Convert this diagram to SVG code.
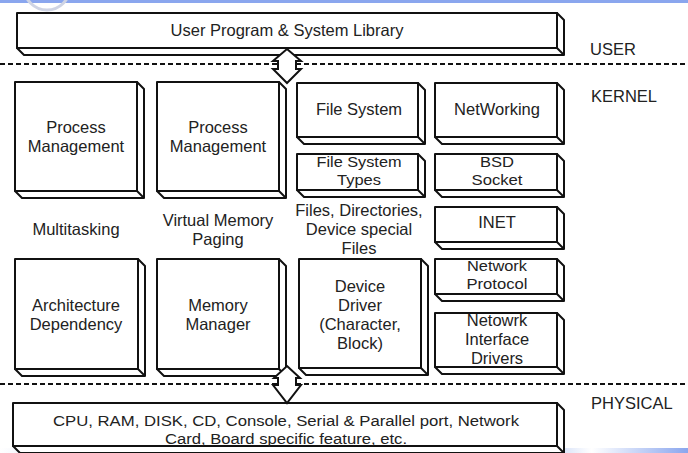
<svg xmlns="http://www.w3.org/2000/svg" width="688" height="453" viewBox="0 0 688 453">
<defs>
<linearGradient id="bandB" x1="0" y1="0" x2="1" y2="0">
<stop offset="0" stop-color="#ffffff"/>
<stop offset="0.18" stop-color="#c4d3f5"/>
<stop offset="0.45" stop-color="#8ea9ec"/>
<stop offset="0.78" stop-color="#b9cbf3"/>
<stop offset="0.86" stop-color="#ffffff"/>
<stop offset="1" stop-color="#8aa6ee"/>
</linearGradient>
</defs>
<style>
.f{fill:#fff;stroke:#111;stroke-width:2;stroke-linejoin:round}
.e{fill:#fff;stroke:#111;stroke-width:2;stroke-linejoin:round}
.t{font-family:"Liberation Sans",Arial,sans-serif;font-size:16.5px;fill:#222;text-anchor:middle}
.s{font-family:"Liberation Sans",Arial,sans-serif;font-size:15.5px;fill:#222;text-anchor:middle}
.l{font-family:"Liberation Sans",Arial,sans-serif;font-size:16.5px;fill:#222}
.d{stroke:#111;stroke-width:2;stroke-dasharray:5 3;fill:none}
.a{fill:#fff;stroke:#111;stroke-width:2;stroke-linejoin:miter}
</style>
<rect width="688" height="453" fill="#fff"/>
<rect x="0" y="0" width="688" height="3" fill="#8aa6ee"/>
<circle cx="47" cy="-13" r="23" fill="none" stroke="#cfd4e4" stroke-width="3"/>
<rect x="0" y="448" width="688" height="5" fill="url(#bandB)"/>

<g id="separators">
<line class="d" x1="0" y1="64" x2="688" y2="64"/>
<line class="d" x1="0" y1="384" x2="688" y2="384"/>
</g>

<g id="labels">
<text class="l" x="590" y="55">USER</text>
<text class="l" x="591" y="102">KERNEL</text>
<text class="l" x="591" y="409">PHYSICAL</text>
<text class="t" x="76" y="235">Multitasking</text>
<text class="t" x="218" y="226">Virtual Memory</text>
<text class="t" x="218" y="245">Paging</text>
<text class="t" x="359" y="216">Files, Directories,</text>
<text class="t" x="359" y="235">Device special</text>
<text class="t" x="359" y="254">Files</text>
</g>

<g id="user-program">
<polygon class="e" points="557,13 564,20 564,55 24,55 17,48 557,48"/>
<line class="e" x1="557" y1="48" x2="564" y2="55"/>
<rect class="f" x="17" y="13" width="540" height="35"/>
<text class="t" x="287" y="36">User Program &amp; System Library</text>
</g>

<g id="process-management-1">
<polygon class="e" points="137,82 144,89 144,198 22,198 15,191 137,191"/>
<line class="e" x1="137" y1="191" x2="144" y2="198"/>
<rect class="f" x="15" y="82" width="122" height="109"/>
<text class="t" x="76" y="133">Process</text>
<text class="t" x="76" y="152">Management</text>
</g>

<g id="process-management-2">
<polygon class="e" points="279,82 286,89 286,198 164,198 157,191 279,191"/>
<line class="e" x1="279" y1="191" x2="286" y2="198"/>
<rect class="f" x="157" y="82" width="122" height="109"/>
<text class="t" x="218" y="133">Process</text>
<text class="t" x="218" y="152">Management</text>
</g>

<g id="file-system">
<polygon class="e" points="418,83 425,90 425,144 304,144 297,137 418,137"/>
<line class="e" x1="418" y1="137" x2="425" y2="144"/>
<rect class="f" x="297" y="83" width="121" height="54"/>
<text class="t" x="359" y="115">File System</text>
</g>

<g id="networking">
<polygon class="e" points="557,83 564,90 564,144 442,144 435,137 557,137"/>
<line class="e" x1="557" y1="137" x2="564" y2="144"/>
<rect class="f" x="435" y="83" width="122" height="54"/>
<text class="t" x="497" y="115">NetWorking</text>
</g>

<g id="file-system-types">
<polygon class="e" points="418,154 425,161 425,197 304,197 297,190 418,190"/>
<line class="e" x1="418" y1="190" x2="425" y2="197"/>
<rect class="f" x="297" y="154" width="121" height="36"/>
<text class="s" x="359" y="167" textLength="85" lengthAdjust="spacingAndGlyphs">File System</text>
<text class="s" x="359" y="185" textLength="44" lengthAdjust="spacingAndGlyphs">Types</text>
</g>

<g id="bsd-socket">
<polygon class="e" points="557,154 564,161 564,197 442,197 435,190 557,190"/>
<line class="e" x1="557" y1="190" x2="564" y2="197"/>
<rect class="f" x="435" y="154" width="122" height="36"/>
<text class="s" x="497" y="167" textLength="34" lengthAdjust="spacingAndGlyphs">BSD</text>
<text class="s" x="497" y="185" textLength="51" lengthAdjust="spacingAndGlyphs">Socket</text>
</g>

<g id="inet">
<polygon class="e" points="557,207 564,214 564,249 442,249 435,242 557,242"/>
<line class="e" x1="557" y1="242" x2="564" y2="249"/>
<rect class="f" x="435" y="207" width="122" height="35"/>
<text class="t" x="497" y="228">INET</text>
</g>

<g id="architecture-dependency">
<polygon class="e" points="138,259 145,266 145,376 22,376 15,369 138,369"/>
<line class="e" x1="138" y1="369" x2="145" y2="376"/>
<rect class="f" x="15" y="259" width="123" height="110"/>
<text class="t" x="76" y="311">Architecture</text>
<text class="t" x="76" y="330">Dependency</text>
</g>

<g id="memory-manager">
<polygon class="e" points="279,259 286,266 286,376 164,376 157,369 279,369"/>
<line class="e" x1="279" y1="369" x2="286" y2="376"/>
<rect class="f" x="157" y="259" width="122" height="110"/>
<text class="t" x="218" y="311">Memory</text>
<text class="t" x="218" y="330">Manager</text>
</g>

<g id="device-driver">
<polygon class="e" points="421,259 428,266 428,375 306,375 299,368 421,368"/>
<line class="e" x1="421" y1="368" x2="428" y2="375"/>
<rect class="f" x="299" y="259" width="122" height="109"/>
<text class="t" x="360" y="292">Device</text>
<text class="t" x="360" y="311">Driver</text>
<text class="t" x="360" y="330">(Character,</text>
<text class="t" x="360" y="349">Block)</text>
</g>

<g id="network-protocol">
<polygon class="e" points="557,259 564,266 564,301 442,301 435,294 557,294"/>
<line class="e" x1="557" y1="294" x2="564" y2="301"/>
<rect class="f" x="435" y="259" width="122" height="35"/>
<text class="s" x="497" y="271" textLength="60" lengthAdjust="spacingAndGlyphs">Network</text>
<text class="s" x="497" y="289" textLength="61" lengthAdjust="spacingAndGlyphs">Protocol</text>
</g>

<g id="network-interface-drivers">
<polygon class="e" points="557,313 564,320 564,374 442,374 435,367 557,367"/>
<line class="e" x1="557" y1="367" x2="564" y2="374"/>
<rect class="f" x="435" y="313" width="122" height="54"/>
<text class="t" x="497" y="326">Netowrk</text>
<text class="t" x="497" y="345">Interface</text>
<text class="t" x="497" y="364">Drivers</text>
</g>

<g id="hardware">
<polygon class="e" points="557,403 564,410 564,453 20,453 13,446 557,446"/>
<line class="e" x1="557" y1="446" x2="564" y2="453"/>
<rect class="f" x="13" y="403" width="544" height="43"/>
<text class="s" x="286" y="426" textLength="466" lengthAdjust="spacingAndGlyphs">CPU, RAM, DISK, CD, Console, Serial &amp; Parallel port, Network</text>
<text class="s" x="286" y="444" textLength="242" lengthAdjust="spacingAndGlyphs">Card, Board specific feature, etc.</text>
</g>

<g id="connectors">
<polygon class="a" points="287,49 301,61 296,61 296,69 301,69 287,83 273,69 278,69 278,61 273,61"/>
<polygon class="a" points="287,366 300,378 296,378 296,385 301,385 287,403 273,385 278,385 278,378 274,378"/>
</g>
</svg>
